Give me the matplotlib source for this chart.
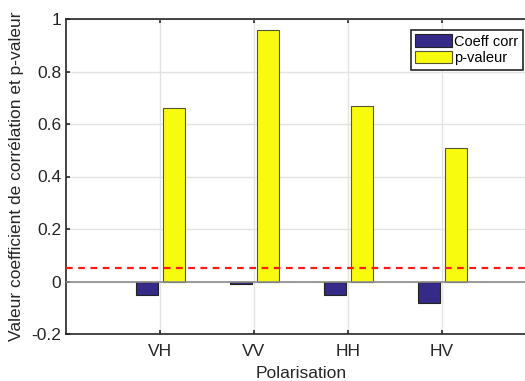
import numpy as np
import matplotlib.pyplot as plt

# Données
polarisations = ['VH', 'VV', 'HH', 'HV']
coeff_corr = [-0.05, -0.01, -0.05, -0.08]
p_valeur = [0.66, 0.96, 0.67, 0.51]
seuil = 0.05

plt.rcParams['font.family'] = ['Liberation Sans', 'DejaVu Sans']
plt.rcParams['font.size'] = 12.5

fig = plt.figure(figsize=(5.25, 3.81), dpi=100)
# l'axe dépasse à droite de l'image (comme dans l'original recadré)
ax = fig.add_axes([66 / 525, 47 / 381, 470 / 525, 315 / 381])

x = np.arange(1, len(polarisations) + 1)
ax.bar(x - 0.14, coeff_corr, width=0.23, color='#352a87', edgecolor='#222222',
       linewidth=0.8, label='Coeff corr', zorder=3)
ax.bar(x + 0.15, p_valeur, width=0.23, color='#f9fb0e', edgecolor='#555533',
       linewidth=0.8, label='p-valeur', zorder=3)
ax.axhline(0, color='#8c8c8c', linewidth=1.2, zorder=4)
ax.axhline(seuil, color='#ff1a1a', linestyle=(0, (3, 2.5)), linewidth=1.6, zorder=5)

ax.set_xlim(0, 5)
ax.set_ylim(-0.2, 1)
ax.set_xticks(x)
ax.set_xticklabels(polarisations)
ax.set_yticks([-0.2, 0, 0.2, 0.4, 0.6, 0.8, 1])
ax.set_yticklabels(['-0.2', '0', '0.2', '0.4', '0.6', '0.8', '1'])
ax.grid(True, color='#e3e3e3', linewidth=1.0, zorder=0)
ax.set_axisbelow(True)
ax.tick_params(direction='in', top=True, right=False, length=3, width=1.2,
               colors='#262626', labelcolor='#262626')
ax.tick_params(axis='x', pad=7)
for s in ax.spines.values():
    s.set_linewidth(1.2)
    s.set_color('#262626')

ax.set_xlabel('Polarisation', color='#262626', labelpad=5)
ax.set_ylabel('Valeur coefficient de corrélation et p-valeur', color='#262626', labelpad=5)

leg = ax.legend(loc='upper right', bbox_to_anchor=(523 / 525, 1 - 30 / 381),
                bbox_transform=fig.transFigure, fancybox=False, framealpha=1,
                edgecolor='#262626', borderpad=0.3, handlelength=2.5,
                handleheight=0.95, handletextpad=0.2, labelspacing=0.15,
                borderaxespad=0, fontsize=10.5)
leg.get_frame().set_linewidth(1.2)

fig.savefig('out.png', dpi=100)
